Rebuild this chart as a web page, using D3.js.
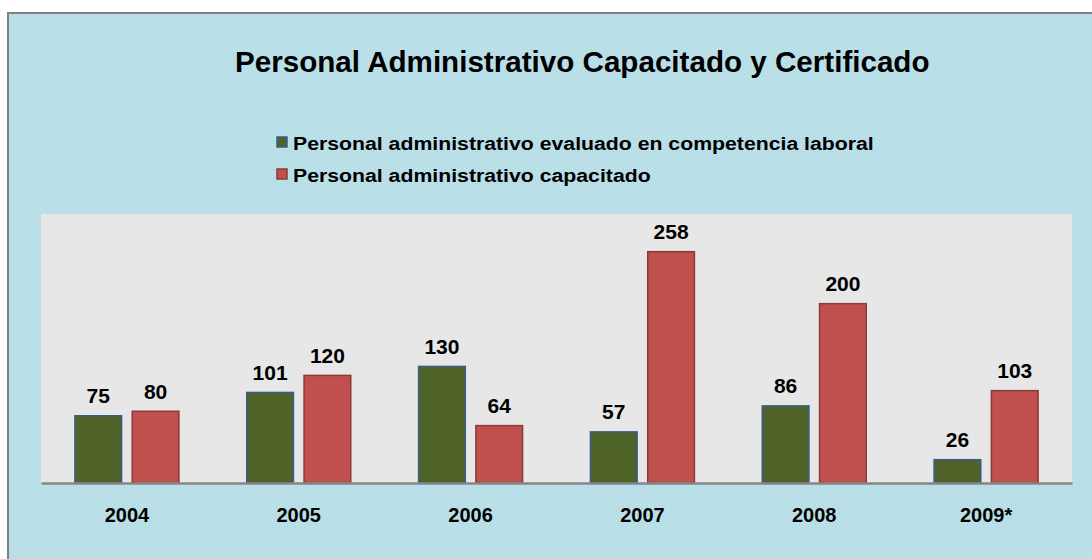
<!DOCTYPE html>
<html>
<head>
<meta charset="utf-8">
<script src="https://cdn.jsdelivr.net/npm/d3@7"></script>
<style>
  body { margin: 0; background: #fff; }
  text { font-family: "Liberation Sans", Arial, sans-serif; font-weight: bold; fill: #000; }
</style>
</head>
<body>
<div id="chart"></div>
<script>
// data
var years = ["2004", "2005", "2006", "2007", "2008", "2009*"];
var evaluado = [75, 101, 130, 57, 86, 26];
var capacitado = [80, 120, 64, 258, 200, 103];
var seriesNames = ["Personal administrativo evaluado en competencia laboral",
                   "Personal administrativo capacitado"];
var titleText = "Personal Administrativo Capacitado y Certificado";

var W = 1092, H = 559;
var plot = {left: 41, right: 1072, top: 214, bottom: 483};
var colors = ["#4f6228", "#c0504d"],
    strokes = ["#385d8a", "#8c3a38"];

var svg = d3.select("#chart").append("svg")
  .attr("width", W)
  .attr("height", H);

// hatched light blue background
var pat = svg.append("defs").append("pattern")
  .attr("id", "bg")
  .attr("width", 4).attr("height", 4)
  .attr("patternUnits", "userSpaceOnUse");
pat.append("rect").attr("width", 4).attr("height", 4).attr("fill", "#b7dde6");
pat.append("rect").attr("x", 0).attr("y", 0).attr("width", 1).attr("height", 1).attr("fill", "#c9e8ef");
pat.append("rect").attr("x", 2).attr("y", 2).attr("width", 1).attr("height", 1).attr("fill", "#c9e8ef");

svg.append("rect")
  .attr("x", 8).attr("y", 13)
  .attr("width", W).attr("height", H)
  .attr("fill", "url(#bg)")
  .attr("stroke", "#808080")
  .attr("stroke-width", 2);

// plot area
svg.append("rect")
  .attr("x", plot.left).attr("y", plot.top)
  .attr("width", plot.right - plot.left)
  .attr("height", plot.bottom - plot.top)
  .attr("fill", "#e7e7e7");

var x = d3.scaleBand().domain(years).range([plot.left, plot.right]);
var y = d3.scaleLinear().domain([0, 300]).range([plot.bottom, plot.top]);

var barW = 46.7, gap = 10.6;

var rows = years.map(function(yr, i) {
  return {year: yr, vals: [evaluado[i], capacitado[i]]};
});

var groups = svg.selectAll(".grp")
  .data(rows)
  .enter().append("g")
  .attr("class", "grp")
  .attr("transform", function(d) { return "translate(" + (x(d.year) + x.bandwidth() / 2) + ",0)"; });

groups.selectAll("rect")
  .data(function(d) { return d.vals; })
  .enter().append("rect")
  .attr("x", function(d, j) { return j === 0 ? -gap / 2 - barW : gap / 2; })
  .attr("y", function(d) { return y(d); })
  .attr("width", barW)
  .attr("height", function(d) { return y(0) - y(d); })
  .attr("fill", function(d, j) { return colors[j]; })
  .attr("stroke", function(d, j) { return strokes[j]; })
  .attr("stroke-width", 1.5);

groups.selectAll("text")
  .data(function(d) { return d.vals; })
  .enter().append("text")
  .attr("x", function(d, j) { return j === 0 ? -gap / 2 - barW / 2 : gap / 2 + barW / 2; })
  .attr("y", function(d) { return y(d) - 12.5; })
  .attr("text-anchor", "middle")
  .style("font-size", "21px")
  .text(function(d) { return d; });

// x axis
var xAxis = svg.append("g")
  .attr("transform", "translate(0," + plot.bottom + ")")
  .call(d3.axisBottom(x).tickSize(0).tickPadding(0));
xAxis.select(".domain").attr("stroke", "#868686").attr("stroke-width", 2.5);
xAxis.selectAll("text")
  .attr("dy", 0).attr("y", 39)
  .style("font-size", "20px")
  .style("font-family", "'Liberation Sans', Arial, sans-serif")
  .style("font-weight", "bold")
  .attr("fill", "#000");

// title
svg.append("text")
  .attr("x", 235).attr("y", 72)
  .style("font-size", "29.6px")
  .text(titleText);

// legend
var leg = svg.selectAll(".leg")
  .data(seriesNames)
  .enter().append("g")
  .attr("class", "leg")
  .attr("transform", function(d, i) { return "translate(277," + (137 + i * 32) + ")"; });
leg.append("rect")
  .attr("width", 10).attr("height", 10)
  .attr("fill", function(d, i) { return colors[i]; })
  .attr("stroke", function(d, i) { return strokes[i]; })
  .attr("stroke-width", 1.5);
leg.append("text")
  .attr("x", 16).attr("y", 13)
  .style("font-size", "18px")
  .text(function(d) { return d; })
  .each(function() {
    var t = d3.select(this);
    t.attr("textLength", this.getComputedTextLength() * 1.18)
     .attr("lengthAdjust", "spacingAndGlyphs");
  });
</script>
</body>
</html>
